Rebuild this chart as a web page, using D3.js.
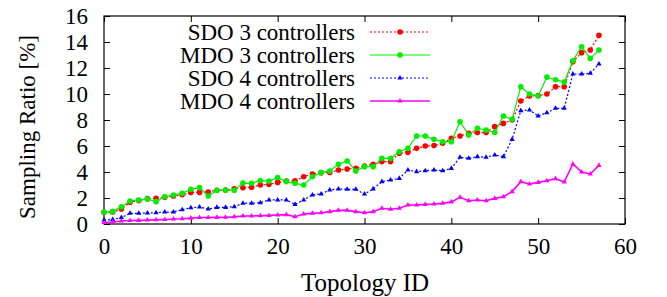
<!DOCTYPE html>
<html>
<head>
<meta charset="utf-8">
<script src="https://cdn.jsdelivr.net/npm/d3@7"></script>
<style>
  body { margin: 0; background: #fff; }
  text { font-family: "Liberation Serif", "DejaVu Serif", serif; }
</style>
</head>
<body>
<svg id="chart" width="667" height="297"></svg>
<script>
// topology ids 0..57
var topoIds = d3.range(0, 58);

var sdo3 = [0.9, 0.92, 1.15, 1.67, 1.8, 1.95, 1.97, 2.05, 2.15, 2.25,
  2.43, 2.43, 2.46, 2.6, 2.62, 2.7, 2.78, 2.83, 3.0, 3.05,
  3.2, 3.31, 3.33, 3.64, 3.85, 3.95, 3.97, 4.15, 4.23, 4.28,
  4.46, 4.6, 4.8, 4.8, 5.44, 5.51, 5.82, 6.0, 6.03, 6.21,
  6.6, 6.77, 6.97, 7.03, 7.03, 7.49, 7.74, 8.0, 9.46, 9.85,
  9.88, 10.0, 10.56, 10.56, 12.49, 13.18, 13.38, 14.51];

var mdo3 = [0.9, 0.97, 1.33, 1.77, 1.85, 1.92, 1.72, 2.1, 2.23, 2.36,
  2.67, 2.8, 2.15, 2.6, 2.6, 2.6, 3.15, 3.13, 3.35, 3.3,
  3.57, 3.26, 3.13, 3.0, 3.64, 3.95, 4.08, 4.59, 4.85, 4.08,
  4.41, 4.41, 5.05, 5.05, 5.56, 5.82, 6.77, 6.77, 6.51, 6.33,
  6.33, 7.87, 6.85, 7.36, 7.23, 7.03, 8.31, 8.05, 10.56, 10.0,
  9.85, 11.3, 11.1, 10.92, 12.56, 13.64, 12.74, 13.38];

var sdo4 = [0.3, 0.35, 0.5, 0.82, 0.82, 0.85, 0.87, 0.92, 0.92, 1.1,
  1.25, 1.3, 1.15, 1.28, 1.28, 1.33, 1.6, 1.6, 1.64, 1.85,
  1.85, 1.85, 1.51, 1.85, 2.23, 2.31, 2.62, 2.69, 2.67, 2.67,
  2.3, 2.7, 3.26, 3.38, 3.51, 4.15, 4.03, 4.1, 4.15, 4.1,
  4.28, 5.13, 5.05, 5.18, 5.13, 5.31, 5.18, 6.51, 8.72, 8.77,
  8.31, 8.56, 8.9, 8.9, 11.54, 11.54, 11.59, 12.31];

var mdo4 = [0.12, 0.15, 0.23, 0.27, 0.28, 0.3, 0.32, 0.35, 0.38, 0.4,
  0.45, 0.5, 0.5, 0.51, 0.52, 0.55, 0.62, 0.62, 0.64, 0.66,
  0.69, 0.72, 0.56, 0.77, 0.82, 0.87, 0.95, 1.05, 1.05, 0.95,
  0.87, 0.95, 1.21, 1.13, 1.21, 1.46, 1.46, 1.51, 1.54, 1.59,
  1.7, 2.05, 1.79, 1.85, 1.79, 1.97, 2.1, 2.49, 3.26, 3.08,
  3.2, 3.33, 3.49, 3.23, 4.62, 4.0, 3.85, 4.51];

var xTicks = [0, 10, 20, 30, 40, 50, 60];
var yTicks = [0, 2, 4, 6, 8, 10, 12, 14, 16];

var seriesNames = ["SDO 3 controllers", "MDO 3 controllers", "SDO 4 controllers", "MDO 4 controllers"];
var seriesValues = [sdo3, mdo3, sdo4, mdo4];
var seriesColors = ["#ff0000", "#00ee00", "#0000ff", "#ff00ff"];
var seriesDash = ["2,2", null, "2,2", null];
var seriesMarker = ["circle", "circle", "triangle", "triangle"];

var svg = d3.select("#chart");
var plotLeft = 104, plotRight = 625, plotTop = 16, plotBottom = 224;

var x = d3.scaleLinear().domain([0, 60]).range([plotLeft, plotRight]);
var y = d3.scaleLinear().domain([0, 16]).range([plotBottom, plotTop]);

var tickLen = 6;

// axes (ticks point inward, mirrored on top/right like gnuplot)
var gx = svg.append("g").attr("transform", "translate(0," + plotBottom + ")")
  .call(d3.axisBottom(x).tickValues(xTicks).tickSizeInner(-tickLen).tickSizeOuter(0).tickPadding(tickLen + 8));
var gy = svg.append("g").attr("transform", "translate(" + plotLeft + ",0)")
  .call(d3.axisLeft(y).tickValues(yTicks).tickSizeInner(-tickLen).tickSizeOuter(0).tickPadding(tickLen + 10));
var gx2 = svg.append("g").attr("transform", "translate(0," + plotTop + ")")
  .call(d3.axisTop(x).tickValues(xTicks).tickSizeInner(-tickLen).tickSizeOuter(0).tickFormat(""));
var gy2 = svg.append("g").attr("transform", "translate(" + plotRight + ",0)")
  .call(d3.axisRight(y).tickValues(yTicks).tickSizeInner(-tickLen).tickSizeOuter(0).tickFormat(""));

[gx, gy, gx2, gy2].forEach(function(g) {
  g.select(".domain").remove();
  g.selectAll("line").attr("stroke", "#000");
  g.selectAll("text").attr("font-family", "Liberation Serif, serif").attr("font-size", 23).attr("fill", "#000");
});
gx.selectAll("text").attr("dy", "0.71em");

svg.append("rect")
  .attr("x", plotLeft).attr("y", plotTop)
  .attr("width", plotRight - plotLeft).attr("height", plotBottom - plotTop)
  .attr("fill", "none").attr("stroke", "#000").attr("stroke-width", 1.2);

// axis titles
svg.append("text")
  .attr("x", 365).attr("y", 291)
  .attr("text-anchor", "middle").attr("font-size", 25)
  .text("Topology ID");

svg.append("text")
  .attr("transform", "translate(35," + 127 + ") rotate(-90)")
  .attr("text-anchor", "middle").attr("font-size", 23)
  .text("Sampling Ratio [%]");

var line = d3.line()
  .x(function(d, i) { return x(topoIds[i]); })
  .y(function(d) { return y(d); });

var tri = d3.symbol().type(d3.symbolTriangle).size(12);

function drawMarker(g, type, color, cx, cy) {
  if (type === "circle") {
    g.append("circle").attr("cx", cx).attr("cy", cy).attr("r", 2.8).attr("fill", color);
  } else {
    g.append("path").attr("d", tri).attr("transform", "translate(" + cx + "," + cy + ")").attr("fill", color);
  }
}

seriesValues.forEach(function(vals, k) {
  var g = svg.append("g");
  g.append("path")
    .datum(vals)
    .attr("d", line)
    .attr("fill", "none")
    .attr("stroke", seriesColors[k])
    .attr("stroke-width", k === 3 ? 1.6 : 1.2)
    .attr("stroke-dasharray", seriesDash[k]);
  vals.forEach(function(v, i) {
    drawMarker(g, seriesMarker[k], seriesColors[k], x(topoIds[i]), y(v));
  });
});

// legend
var legY = [32, 55, 78, 101];
seriesNames.forEach(function(name, k) {
  var g = svg.append("g");
  g.append("text")
    .attr("x", 355).attr("y", legY[k])
    .attr("dy", "0.35em")
    .attr("text-anchor", "end").attr("font-size", 23)
    .text(name);
  g.append("line")
    .attr("x1", 370).attr("x2", 430)
    .attr("y1", legY[k]).attr("y2", legY[k])
    .attr("stroke", seriesColors[k])
    .attr("stroke-width", k === 3 ? 1.6 : 1.2)
    .attr("stroke-dasharray", seriesDash[k]);
  drawMarker(g, seriesMarker[k], seriesColors[k], 400, legY[k]);
});
</script>
</body>
</html>
